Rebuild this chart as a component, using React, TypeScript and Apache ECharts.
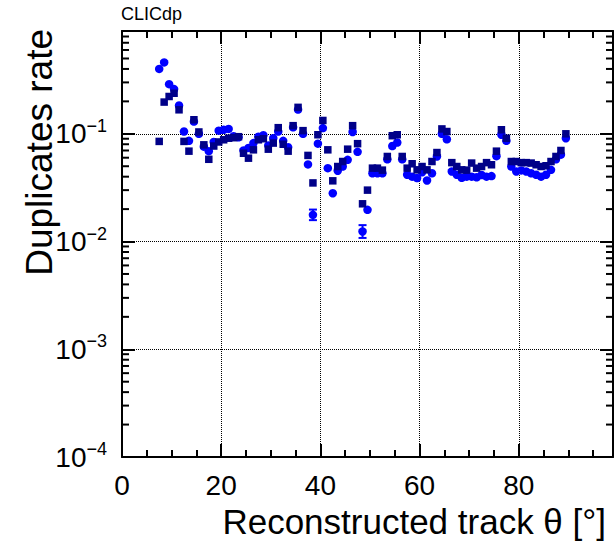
import React, { useEffect, useRef } from "react";
import * as echarts from "echarts";

// Bin centres of the reconstructed track polar angle (degrees)
const theta = [
  7.5, 8.5, 9.5, 10.5, 11.5, 12.5, 13.5, 14.5, 15.5, 16.5, 17.5, 18.5, 19.5, 20.5,
  21.5, 22.5, 23.5, 24.5, 25.5, 26.5, 27.5, 28.5, 29.5, 30.5, 31.5, 32.5, 33.5, 34.5,
  35.5, 36.5, 37.5, 38.5, 39.5, 40.5, 41.5, 42.5, 43.5, 44.5, 45.5, 46.5, 47.5, 48.5,
  49.5, 50.5, 51.5, 52.5, 53.5, 54.5, 55.5, 56.5, 57.5, 58.5, 59.5, 60.5, 61.5, 62.5,
  63.5, 64.5, 65.5, 66.5, 67.5, 68.5, 69.5, 70.5, 71.5, 72.5, 73.5, 74.5, 75.5, 76.5,
  77.5, 78.5, 79.5, 80.5, 81.5, 82.5, 83.5, 84.5, 85.5, 86.5, 87.5, 88.5, 89.5,
];

// Duplicates rate, blue circles
const rateCircles = [
  0.4, 0.46, 0.289, 0.26, 0.183, 0.105, 0.086, 0.13, 0.1, 0.076, 0.069, 0.084, 0.107, 0.109,
  0.111, 0.095, 0.093, 0.07, 0.074, 0.082, 0.094, 0.097, 0.078, 0.091, 0.105, 0.086, 0.075, 0.115,
  0.168, 0.1, 0.052, 0.0177, 0.081, 0.113, 0.048, 0.0281, 0.0454, 0.0497, 0.0573, 0.104, 0.068, 0.0124,
  0.0197, 0.043, 0.043, 0.043, 0.058, 0.077, 0.083, 0.058, 0.0417, 0.04, 0.0388, 0.044, 0.0369, 0.043,
  0.0616, 0.1, 0.089, 0.0447, 0.0417, 0.039, 0.04, 0.04, 0.0395, 0.0415, 0.04, 0.0405, 0.062, 0.098,
  0.086, 0.0497, 0.0447, 0.0457, 0.0447, 0.043, 0.0417, 0.04, 0.0417, 0.0463, 0.058, 0.064, 0.091,
];

// Duplicates rate, dark blue squares
const rateSquares = [
  0.085, 0.197, 0.222, 0.238, 0.167, 0.085, 0.069, 0.135, 0.104, 0.079, 0.058, 0.077, 0.084, 0.088,
  0.091, 0.092, 0.094, 0.066, 0.0594, 0.071, 0.088, 0.09, 0.072, 0.082, 0.114, 0.08, 0.069, 0.119,
  0.176, 0.107, 0.063, 0.035, 0.098, 0.133, 0.071, 0.0366, 0.0497, 0.0553, 0.072, 0.119, 0.081, 0.0224,
  0.03, 0.048, 0.048, 0.046, 0.0616, 0.096, 0.098, 0.0616, 0.048, 0.0527, 0.0463, 0.0497, 0.0463, 0.0553,
  0.067, 0.111, 0.105, 0.054, 0.0497, 0.0463, 0.046, 0.0535, 0.048, 0.0497, 0.054, 0.0516, 0.069, 0.109,
  0.091, 0.0553, 0.0553, 0.054, 0.054, 0.0535, 0.0516, 0.0497, 0.0505, 0.0553, 0.0616, 0.07, 0.1,
];

// Visible error bars (circles series)
const errTheta = [38.5, 48.5];
const errLow = [0.0158, 0.0108];
const errHigh = [0.0198, 0.0142];

// Log-axis minor tick values
const yMinorTicks = [
  0.0002, 0.0003, 0.0004, 0.0005, 0.0006, 0.0007, 0.0008, 0.0009,
  0.002, 0.003, 0.004, 0.005, 0.006, 0.007, 0.008, 0.009,
  0.02, 0.03, 0.04, 0.05, 0.06, 0.07, 0.08, 0.09,
  0.2, 0.3, 0.4, 0.5, 0.6, 0.7, 0.8, 0.9,
];

const FONT = "Liberation Sans";
const X_MIN = 0;
const X_MAX = 99;
const X_MAJOR = 20;
const X_MINOR = 5;
const Y_MIN = 0.0001;
const Y_MAX = 0.9;

function xAxisDef(position: string, interval: number, len: number, main: boolean, labels: boolean) {
  return {
    type: "value",
    position,
    min: X_MIN,
    max: X_MAX,
    interval,
    axisLine: { show: main, onZero: false, lineStyle: { color: "#000", width: 2 } },
    axisTick: { show: true, inside: true, length: len, lineStyle: { color: "#000", width: 2 } },
    axisLabel: labels
      ? { show: true, showMaxLabel: false, fontSize: 28, fontFamily: FONT, color: "#000", margin: 14 }
      : { show: false },
    splitLine: { show: labels, lineStyle: { type: "dotted", color: "#000", width: 1 } },
    minorTick: { show: false },
  };
}

function yAxisDef(position: string, labels: boolean) {
  return {
    type: "log",
    logBase: 10,
    position,
    min: Y_MIN,
    max: Y_MAX,
    axisLine: { show: true, onZero: false, lineStyle: { color: "#000", width: 2 } },
    axisTick: { show: true, inside: true, length: 13, lineStyle: { color: "#000", width: 2 } },
    axisLabel: labels
      ? {
          show: true,
          showMaxLabel: false,
          margin: 15,
          formatter: (v: number) => {
            const e = Math.log10(v);
            if (Math.abs(e - Math.round(e)) > 1e-6) return "";
            const r = Math.round(e);
            return `{b|10}{s|${r < 0 ? "\u2212" : ""}${Math.abs(r)}}`;
          },
          rich: {
            b: { fontSize: 28, fontFamily: FONT, color: "#000" },
            s: { fontSize: 18, fontFamily: FONT, color: "#000", padding: [0, 0, 16, 0] },
          },
        }
      : { show: false },
    splitLine: { show: labels, lineStyle: { type: "dotted", color: "#000", width: 1 } },
    minorTick: { show: false },
  };
}

export default function App() {
  const ref = useRef<HTMLDivElement>(null);

  useEffect(() => {
    if (!ref.current) return;
    const chart = echarts.init(ref.current, null, { renderer: "svg" });

    const option: any = {
      animation: false,
      backgroundColor: "#fff",
      grid: { left: 122, top: 31, right: 3, bottom: 90, containLabel: false },
      xAxis: [
        xAxisDef("bottom", X_MAJOR, 13, true, true),
        xAxisDef("top", X_MAJOR, 13, true, false),
        xAxisDef("bottom", X_MINOR, 7, false, false),
        xAxisDef("top", X_MINOR, 7, false, false),
      ],
      yAxis: [yAxisDef("left", true), yAxisDef("right", false)],
      series: [
        {
          // minor ticks of the log axes (left and right frame)
          type: "custom",
          xAxisIndex: 0,
          yAxisIndex: 0,
          z: 5,
          silent: true,
          clip: false,
          data: yMinorTicks.map((v) => [X_MIN, v]),
          encode: { x: 0, y: 1 },
          renderItem: (params: any, api: any) => {
            const l = api.coord([X_MIN, api.value(1)]);
            const r = api.coord([X_MAX, api.value(1)]);
            const st = { stroke: "#000", lineWidth: 2 };
            return {
              type: "group",
              children: [
                { type: "line", shape: { x1: l[0], y1: l[1], x2: l[0] + 7, y2: l[1] }, style: st },
                { type: "line", shape: { x1: r[0] - 7, y1: r[1], x2: r[0], y2: r[1] }, style: st },
              ],
            };
          },
        },
        {
          type: "scatter",
          xAxisIndex: 0,
          yAxisIndex: 0,
          symbol: "circle",
          symbolSize: 8.5,
          itemStyle: { color: "#0000ff", opacity: 1 },
          z: 2,
          data: theta.map((t, i) => [t, rateCircles[i]]),
        },
        {
          type: "custom",
          xAxisIndex: 0,
          yAxisIndex: 0,
          z: 2,
          encode: { x: 0, y: [1, 2] },
          data: errTheta.map((t, i) => [t, errLow[i], errHigh[i]]),
          renderItem: (params: any, api: any) => {
            const lo = api.coord([api.value(0), api.value(1)]);
            const hi = api.coord([api.value(0), api.value(2)]);
            const st = { stroke: "#0000ff", lineWidth: 2 };
            return {
              type: "group",
              children: [
                { type: "line", shape: { x1: lo[0], y1: lo[1], x2: hi[0], y2: hi[1] }, style: st },
                { type: "line", shape: { x1: lo[0] - 4, y1: lo[1], x2: lo[0] + 4, y2: lo[1] }, style: st },
                { type: "line", shape: { x1: hi[0] - 4, y1: hi[1], x2: hi[0] + 4, y2: hi[1] }, style: st },
              ],
            };
          },
        },
        {
          type: "scatter",
          xAxisIndex: 0,
          yAxisIndex: 0,
          symbol: "rect",
          symbolSize: 7.5,
          itemStyle: { color: "#000088", opacity: 1 },
          z: 3,
          data: theta.map((t, i) => [t, rateSquares[i]]),
        },
      ],
      graphic: [
        {
          type: "text",
          x: 121,
          y: 14,
          style: {
            text: "CLICdp",
            fontSize: 18,
            fontFamily: FONT,
            fill: "#000",
            align: "left",
            verticalAlign: "middle",
            textAlign: "left",
            textVerticalAlign: "middle",
          },
        },
        {
          type: "text",
          x: 39,
          y: 29,
          rotation: Math.PI / 2,
          style: {
            text: "Duplicates rate",
            fontSize: 37,
            fontFamily: FONT,
            fill: "#000",
            align: "right",
            verticalAlign: "middle",
            textAlign: "right",
            textVerticalAlign: "middle",
          },
        },
        {
          type: "text",
          x: 606,
          y: 521,
          style: {
            text: "Reconstructed track \u03b8 [\u00b0]",
            fontSize: 35,
            fontFamily: FONT,
            fill: "#000",
            align: "right",
            verticalAlign: "middle",
            textAlign: "right",
            textVerticalAlign: "middle",
          },
        },
      ],
    };

    chart.setOption(option);
    return () => chart.dispose();
  }, []);

  return (
    <div
      ref={ref}
      style={{ position: "absolute", left: 0, top: 0, width: 616, height: 547 }}
    />
  );
}
